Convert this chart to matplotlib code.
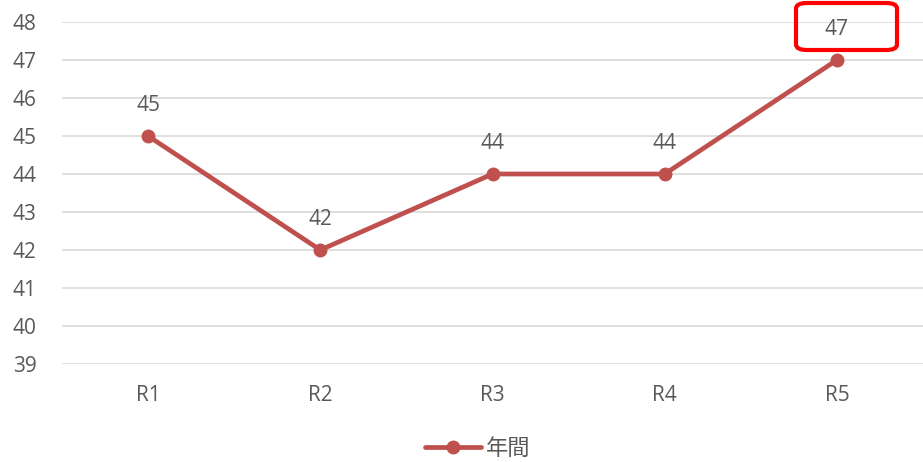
import matplotlib
matplotlib.use("Agg")
import matplotlib.pyplot as plt
from matplotlib.patches import FancyBboxPatch

plt.rcParams['font.family'] = ['Open Sans', 'Noto Sans CJK JP', 'DejaVu Sans']

categories = ["R1", "R2", "R3", "R4", "R5"]
values = [45, 42, 44, 44, 47]
yticks = [39, 40, 41, 42, 43, 44, 45, 46, 47, 48]
series_name = "年間"

W, H = 923, 462
fig = plt.figure(figsize=(W / 100, H / 100), dpi=100)
ax = fig.add_axes([62 / W, 1 - 364 / H, (W - 62) / W, (364 - 22) / H])

line_color = "#C0504D"
text_color = "#595959"

x = list(range(len(categories)))
ax.plot(x, values, color=line_color, lw=3.4, marker='o', ms=9,
        solid_capstyle='round', label=series_name, zorder=3)
for xi, v in zip(x, values):
    ax.annotate(str(v), (xi, v), xytext=(0, 18), textcoords='offset points',
                ha='center', va='baseline', fontsize=15, color=text_color)

ax.set_xlim(-0.5, len(categories) - 0.5)
ax.set_ylim(39, 48)
ax.set_yticks(yticks)
ax.set_xticks(x)
ax.set_xticklabels(categories)
ax.grid(axis='y', color='#D9D9D9', lw=1.2)
ax.set_axisbelow(True)
for s in ax.spines.values():
    s.set_visible(False)
ax.tick_params(axis='both', length=0, labelsize=15, colors=text_color)
ax.tick_params(axis='x', pad=15)
for lab in ax.get_yticklabels():
    lab.set_horizontalalignment('left')
    lab.set_transform(ax.get_yaxis_transform())
    lab.set_position((-49 / (W - 62), lab.get_position()[1]))

leg = fig.legend(loc='center', bbox_to_anchor=(478 / W, 1 - 449 / H),
                 frameon=False, fontsize=16, handlelength=2.5, handletextpad=0.25)
for t in leg.get_texts():
    t.set_color(text_color)

box = FancyBboxPatch((796 / W, 1 - 50 / H), (897 - 796) / W, (50 - 3) / H,
                     boxstyle="round,pad=0,rounding_size=0.012",
                     transform=fig.transFigure, fill=False,
                     edgecolor='#FF0000', lw=3, zorder=10)
fig.patches.append(box)

fig.savefig("out.png", dpi=100)
